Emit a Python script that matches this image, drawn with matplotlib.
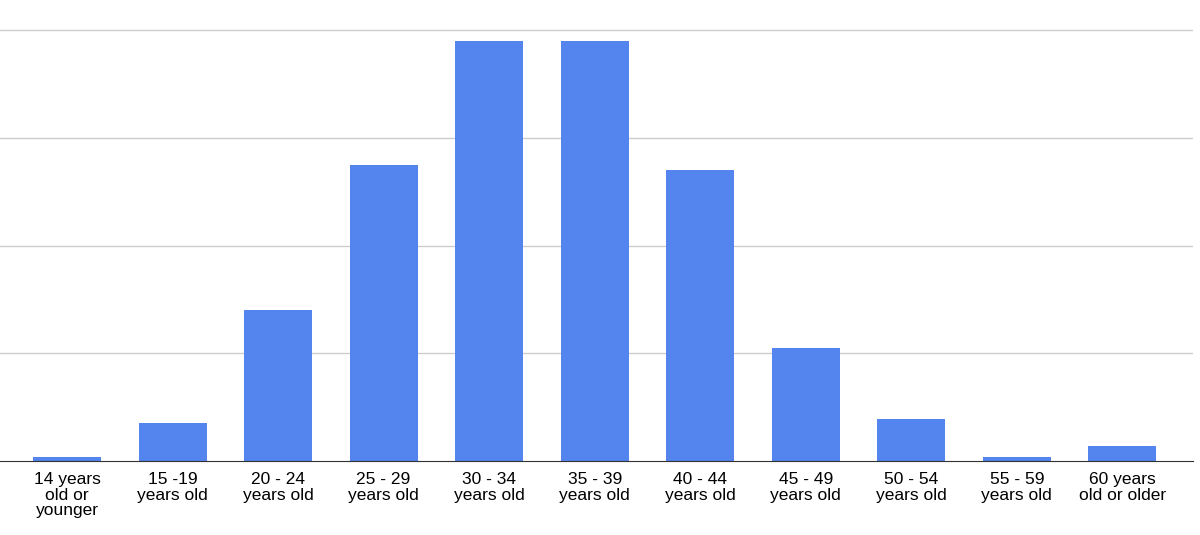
import matplotlib.pyplot as plt

plt.rcParams['font.family'] = ['Liberation Sans', 'DejaVu Sans']

age_groups = ["14 years\nold or\nyounger", "15 -19\nyears old", "20 - 24\nyears old",
              "25 - 29\nyears old", "30 - 34\nyears old", "35 - 39\nyears old",
              "40 - 44\nyears old", "45 - 49\nyears old", "50 - 54\nyears old",
              "55 - 59\nyears old", "60 years\nold or older"]
counts = [0.4, 3.5, 14.0, 27.5, 39.0, 39.0, 27.0, 10.5, 3.9, 0.4, 1.4]

fig = plt.figure(figsize=(12, 5.35), dpi=100)
ax = fig.add_axes([0, 0.138, 1193 / 1200, 0.862])

x = range(len(counts))
ax.bar(x, counts, width=0.645, color='#5484ED', zorder=3)

ax.set_xlim(-0.635, 10.67)
ax.set_ylim(0, 42.8)
ax.set_yticks([10, 20, 30, 40])
ax.yaxis.grid(True, color='#cccccc', linewidth=1, zorder=0)
ax.tick_params(axis='y', left=False, labelleft=False)
ax.tick_params(axis='x', length=0, pad=8, labelsize=12.5)
ax.set_xticks(list(x))
ax.set_xticklabels(age_groups, linespacing=1.05, va='top')

for side in ['top', 'right', 'left']:
    ax.spines[side].set_visible(False)
ax.spines['bottom'].set_color('#333333')
ax.spines['bottom'].set_zorder(4)

fig.savefig('out.png', dpi=100)
